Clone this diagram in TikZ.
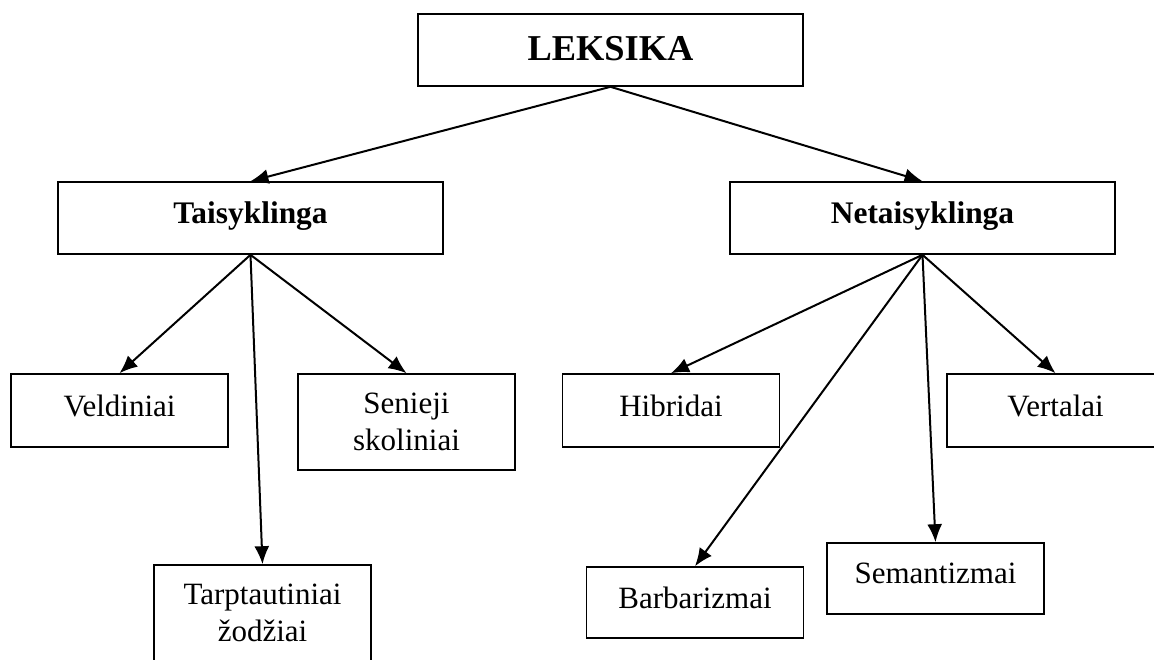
\documentclass[tikz,border=0pt]{standalone}
\usepackage{fontspec}
\setmainfont{Liberation Serif}
\usetikzlibrary{arrows.meta}
\tikzset{ hd/.style = { rectangle
                       , draw
                       , line width   = 0.8pt
                       , minimum width  = 192.5pt
                       , minimum height = 36pt
                       , text depth = 5.5pt
                       , font = \bfseries\fontsize{15.7}{18}\selectfont
                       },
            lf/.style = { rectangle
            , draw
            , line width   = 0.8pt
            , minimum width  = 108.5pt
            , minimum height = 36.5pt
            , align = center
            , font = \fontsize{15.5}{18.5}\selectfont
            },
            sg/.style = { lf
            , text depth = 5pt
            }
          }
\begin{document}
\begin{tikzpicture}[x=0.5pt, y=-0.5pt,
            arr/.style={line width=1pt, -{Latex[length=9pt,width=7.5pt]}}]
            \useasboundingbox (0,0) rectangle (1154,659);
            % top level
            \node[hd, text depth=1.5pt, font=\bfseries\fontsize{18.2}{20}\selectfont] (lex) at (610.5,50) {LEKSIKA};
            \node[hd] (tai) at (250.5,218) {Taisyklinga};
            \node[hd] (net) at (922.5,218) {Netaisyklinga};
            % taisyklinga
            \node[sg] (vel) at (119.5,410.5) {Veldiniai};
            \node[lf, minimum height=48pt] (sen) at (406.5,422) {Senieji\\skoliniai};
            \node[lf, minimum height=48pt] (tar) at (262.5,613) {Tarptautiniai\\žodžiai};
            % netaisyklinga
            \node[sg] (hib) at (671,410.5) {Hibridai};
            \node[sg] (ver) at (1055.5,410.5) {Vertalai};
            \node[sg, minimum height=35.5pt] (bar) at (695,602.5) {Barbarizmai};
            \node[sg, minimum height=35.5pt] (sem) at (935.5,578.5) {Semantizmai};
            \draw[arr] (lex.south) -- (tai.north);
            \draw[arr] (lex.south) -- (net.north);
            \foreach \c in {vel,sen,tar}
                \draw[arr] (tai.south) -- (\c.north);
            \foreach \c in {hib,bar,sem,ver}
                \draw[arr] (net.south) -- (\c.north);
        \end{tikzpicture}
\end{document}
